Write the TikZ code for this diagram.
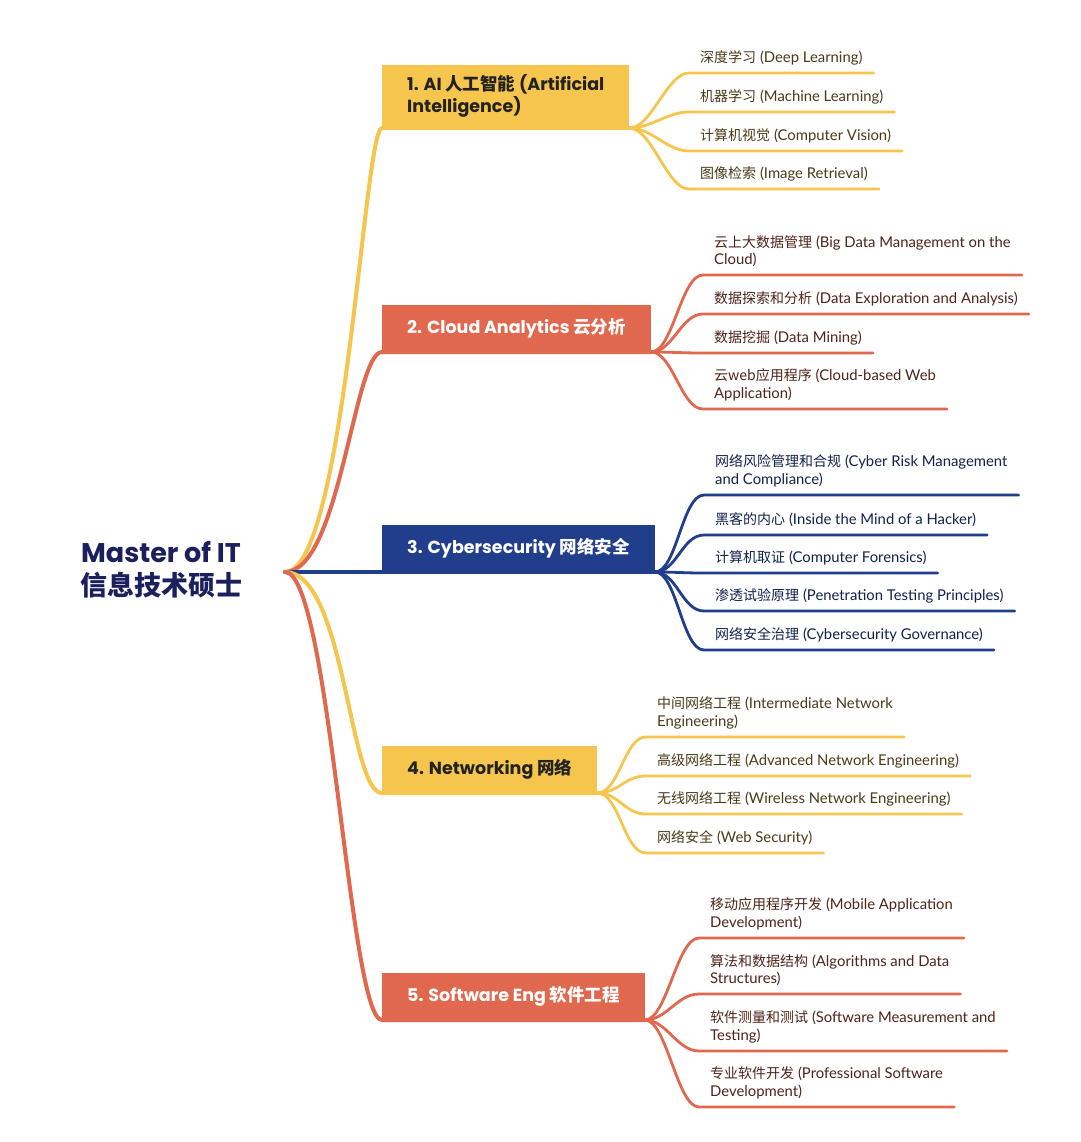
\documentclass[tikz,border=0pt]{standalone}
\usepackage{fontspec}
\setmainfont{Lato}[Scale=1.06]
\newfontfamily\cjk{Noto Sans CJK SC}
\newfontfamily\headfont{Poppins}
\usepackage{xcolor}
\usepackage{tikz}

\definecolor{mmyellow}{HTML}{F5C54E}
\definecolor{mmred}{HTML}{E0684E}
\definecolor{mmnavy}{HTML}{213E8C}
\definecolor{mmink}{HTML}{1B1F5C}
\definecolor{topicdark}{HTML}{222222}
\colorlet{inkyellow}{mmyellow!30!black}
\colorlet{inkred}{mmred!35!black}
\colorlet{inknavy}{mmnavy!55!black}

\newcommand{\zh}[1]{{\cjk #1}}

\begin{document}
\begin{tikzpicture}[
  x=1pt, y=-1pt,
  hubtext/.style={align=center, text=mmink, font=\headfont\bfseries\fontsize{27}{33}\selectfont},
  topic/.style={rectangle, anchor=south west, inner xsep=25pt, minimum height=47pt, align=left, font=\headfont\bfseries\fontsize{17.5}{22}\selectfont},
  leaf/.style={anchor=south west, inner xsep=11pt, inner ysep=8pt, align=left, font=\fontsize{14}{17.5}\selectfont},
  wire/.style={line width=4pt, line cap=round},
  twig/.style={line width=2.8pt, line cap=round}
]

\fill[white] (0,0) rectangle (1080,1142);
\useasboundingbox (0,0) rectangle (1080,1142);

% Root
\node[hubtext] (master) at (161,570) {Master of IT\\\zh{信息技术硕士}};
\coordinate (hub) at (285,572);

% Branch 1: AI
\node[topic, fill=mmyellow, text=topicdark, minimum height=63pt] (ai) at (382,128) {1. AI \zh{人工智能} (Artificial\\Intelligence)};
\node[leaf, text=inkyellow] (ai1) at (689,73) {\zh{深度学习} (Deep Learning)};
\node[leaf, text=inkyellow] (ai2) at (689,112) {\zh{机器学习} (Machine Learning)};
\node[leaf, text=inkyellow] (ai3) at (689,151) {\zh{计算机视觉} (Computer Vision)};
\node[leaf, text=inkyellow] (ai4) at (689,189) {\zh{图像检索} (Image Retrieval)};
\draw[wire, mmyellow] (hub) .. controls +(60,0) and +(-18,0) .. (ai.south west) -- (ai.south east);
\draw[twig, mmyellow] (ai.south east) .. controls +(22,0) and +(-22,0) .. (ai1.south west) -- (ai1.south east);
\draw[twig, mmyellow] (ai.south east) .. controls +(22,0) and +(-22,0) .. (ai2.south west) -- (ai2.south east);
\draw[twig, mmyellow] (ai.south east) .. controls +(22,0) and +(-22,0) .. (ai3.south west) -- (ai3.south east);
\draw[twig, mmyellow] (ai.south east) .. controls +(22,0) and +(-22,0) .. (ai4.south west) -- (ai4.south east);

% Branch 2: Cloud
\node[topic, fill=mmred, text=white] (cloud) at (382,352) {2. Cloud Analytics \zh{云分析}};
\node[leaf, text=inkred] (cloud1) at (703,275) {\zh{云上大数据管理} (Big Data Management on the\\Cloud)};
\node[leaf, text=inkred] (cloud2) at (703,314) {\zh{数据探索和分析} (Data Exploration and Analysis)};
\node[leaf, text=inkred] (cloud3) at (703,353) {\zh{数据挖掘} (Data Mining)};
\node[leaf, text=inkred] (cloud4) at (703,409) {\zh{云web应用程序} (Cloud-based Web\\Application)};
\draw[wire, mmred] (hub) .. controls +(55,0) and +(-28,0) .. (cloud.south west) -- (cloud.south east);
\draw[twig, mmred] (cloud.south east) .. controls +(22,0) and +(-22,0) .. (cloud1.south west) -- (cloud1.south east);
\draw[twig, mmred] (cloud.south east) .. controls +(22,0) and +(-22,0) .. (cloud2.south west) -- (cloud2.south east);
\draw[twig, mmred] (cloud.south east) .. controls +(22,0) and +(-22,0) .. (cloud3.south west) -- (cloud3.south east);
\draw[twig, mmred] (cloud.south east) .. controls +(22,0) and +(-22,0) .. (cloud4.south west) -- (cloud4.south east);

% Branch 3: Cybersecurity
\node[topic, fill=mmnavy, text=white] (cyber) at (382,572) {3. Cybersecurity \zh{网络安全}};
\node[leaf, text=inknavy] (cyber1) at (704,495) {\zh{网络风险管理和合规} (Cyber Risk Management\\and Compliance)};
\node[leaf, text=inknavy] (cyber2) at (704,535) {\zh{黑客的内心} (Inside the Mind of a Hacker)};
\node[leaf, text=inknavy] (cyber3) at (704,573) {\zh{计算机取证} (Computer Forensics)};
\node[leaf, text=inknavy] (cyber4) at (704,611) {\zh{渗透试验原理} (Penetration Testing Principles)};
\node[leaf, text=inknavy] (cyber5) at (704,650) {\zh{网络安全治理} (Cybersecurity Governance)};
\draw[wire, mmnavy] (hub) -- (cyber.south west) -- (cyber.south east);
\draw[twig, mmnavy] (cyber.south east) .. controls +(22,0) and +(-22,0) .. (cyber1.south west) -- (cyber1.south east);
\draw[twig, mmnavy] (cyber.south east) .. controls +(22,0) and +(-22,0) .. (cyber2.south west) -- (cyber2.south east);
\draw[twig, mmnavy] (cyber.south east) .. controls +(22,0) and +(-22,0) .. (cyber3.south west) -- (cyber3.south east);
\draw[twig, mmnavy] (cyber.south east) .. controls +(22,0) and +(-22,0) .. (cyber4.south west) -- (cyber4.south east);
\draw[twig, mmnavy] (cyber.south east) .. controls +(22,0) and +(-22,0) .. (cyber5.south west) -- (cyber5.south east);

% Branch 4: Networking
\node[topic, fill=mmyellow, text=topicdark] (net) at (382,793) {4. Networking \zh{网络}};
\node[leaf, text=inkyellow] (net1) at (646,737) {\zh{中间网络工程} (Intermediate Network\\Engineering)};
\node[leaf, text=inkyellow] (net2) at (646,776) {\zh{高级网络工程} (Advanced Network Engineering)};
\node[leaf, text=inkyellow] (net3) at (646,814) {\zh{无线网络工程} (Wireless Network Engineering)};
\node[leaf, text=inkyellow] (net4) at (646,853) {\zh{网络安全} (Web Security)};
\draw[wire, mmyellow] (hub) .. controls +(60,0) and +(-33,0) .. (net.south west) -- (net.south east);
\draw[twig, mmyellow] (net.south east) .. controls +(22,0) and +(-22,0) .. (net1.south west) -- (net1.south east);
\draw[twig, mmyellow] (net.south east) .. controls +(22,0) and +(-22,0) .. (net2.south west) -- (net2.south east);
\draw[twig, mmyellow] (net.south east) .. controls +(22,0) and +(-22,0) .. (net3.south west) -- (net3.south east);
\draw[twig, mmyellow] (net.south east) .. controls +(22,0) and +(-22,0) .. (net4.south west) -- (net4.south east);

% Branch 5: Software
\node[topic, fill=mmred, text=white] (soft) at (382,1020) {5. Software Eng \zh{软件工程}};
\node[leaf, text=inkred] (soft1) at (699,938) {\zh{移动应用程序开发} (Mobile Application\\Development)};
\node[leaf, text=inkred] (soft2) at (699,994) {\zh{算法和数据结构} (Algorithms and Data\\Structures)};
\node[leaf, text=inkred] (soft3) at (699,1051) {\zh{软件测量和测试} (Software Measurement and\\Testing)};
\node[leaf, text=inkred] (soft4) at (699,1107) {\zh{专业软件开发} (Professional Software\\Development)};
\draw[wire, mmred] (hub) .. controls +(45,0) and +(-33,0) .. (soft.south west) -- (soft.south east);
\draw[twig, mmred] (soft.south east) .. controls +(22,0) and +(-22,0) .. (soft1.south west) -- (soft1.south east);
\draw[twig, mmred] (soft.south east) .. controls +(22,0) and +(-22,0) .. (soft2.south west) -- (soft2.south east);
\draw[twig, mmred] (soft.south east) .. controls +(22,0) and +(-22,0) .. (soft3.south west) -- (soft3.south east);
\draw[twig, mmred] (soft.south east) .. controls +(22,0) and +(-22,0) .. (soft4.south west) -- (soft4.south east);

\end{tikzpicture}
\end{document}
